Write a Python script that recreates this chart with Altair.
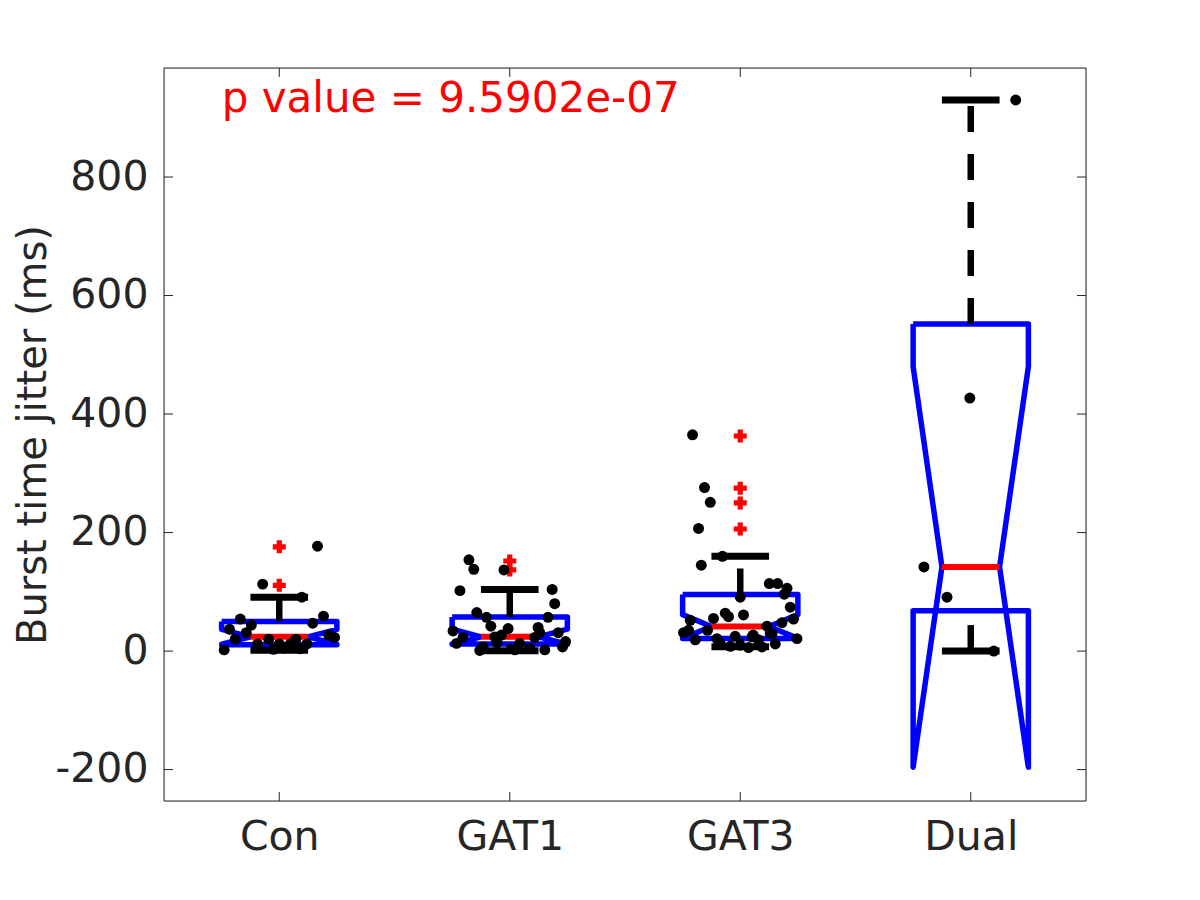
import altair as alt
import pandas as pd

# ---------------- data ----------------
categories = ["Con", "GAT1", "GAT3", "Dual"]
positions = [1, 2, 3, 4]

q1 = [10.5, 11.8, 21.2, 68]
median = [24, 24, 41.5, 142]
q3 = [50, 57.5, 95.5, 552]
notch_lo = [11.5, 11.5, 21.5, -196]
notch_hi = [36.5, 37, 61.5, 480]
whisker_lo = [1.5, 0.5, 7.3, 0]
whisker_hi = [91, 104, 160, 930]

outliers_con = [176, 111]
outliers_gat1 = [152, 137]
outliers_gat3 = [363, 275, 250, 206]
outliers_dual = []

con_offset = [0.166, -0.072, 0.098, -0.169, 0.192, 0.145, -0.216, -0.121, -0.143, -0.191,
              0.214, 0.240, -0.046, 0.072, -0.094, 0.0, 0.048, 0.120, -0.025, -0.239, 0.02, 0.09]
con_values = [177, 113, 91, 54, 59, 47, 37, 44, 31, 20,
              27, 23, 20, 20, 12, 12, 12, 12, 3, 2, 5, 4]

gat1_offset = [-0.177, -0.156, -0.025, -0.216, 0.184, 0.195, 0.166, -0.143, -0.101, -0.082,
               -0.007, 0.123, 0.130, -0.246, 0.210, -0.203, 0.108, -0.065, -0.036, -0.231,
               0.242, 0.229, -0.055, -0.116, -0.130, 0.022, 0.043, 0.087, 0.152]
gat1_values = [154, 138, 137, 102, 104, 80, 57, 65, 57, 42,
               38, 40, 31, 34, 31, 23, 23, 24, 27, 13,
               16, 7, 14, 7, 1, 2, 13, 5, 2]

gat3_offset = [-0.207, -0.155, -0.130, -0.181, -0.077, -0.169, 0.126, 0.162, 0.203, 0.191,
               0.0, 0.217, 0.231, 0.181, -0.065, -0.051, 0.014, -0.116, -0.217, -0.246,
               -0.224, -0.142, 0.116, 0.138, 0.246, -0.195, -0.101, -0.022, 0.051, 0.079,
               -0.087, 0.152, 0.0, 0.036, 0.094, -0.043, 0.130, 0.056]
gat3_values = [365, 276, 251, 207, 160, 145, 114, 114, 106, 96,
               91, 74, 54, 48, 64, 58, 61, 55, 52, 31,
               35, 35, 42, 29, 21, 19, 21, 25, 24, 19,
               13, 12, 10, 6, 7, 8, 30, 27]

dual_offset = [0.195, -0.004, -0.203, -0.103, 0.100]
dual_values = [930, 427, 142, 91, 0]

p_text = "p value = 9.5902e-07"
p_pos = (0.75, 910)

y_ticks = [-200, 0, 200, 400, 600, 800]

# ---------------- build tables ----------------
HALF = 0.25      # half box width
NOTCH = 0.125    # half width at the median / caps

poly_rows = []
for g, p, a, m, b, nl, nh in zip(categories, positions, q1, median, q3, notch_lo, notch_hi):
    verts = [(p - HALF, b), (p - HALF, nh), (p - NOTCH, m), (p - HALF, nl), (p - HALF, a),
             (p + HALF, a), (p + HALF, nl), (p + NOTCH, m), (p + HALF, nh), (p + HALF, b),
             (p - HALF, b)]
    for i, (vx, vy) in enumerate(verts):
        poly_rows.append({"g": g, "x": vx, "y": vy, "o": i})
poly_df = pd.DataFrame(poly_rows)

med_df = pd.DataFrame({"x": [p - NOTCH for p in positions], "x2": [p + NOTCH for p in positions],
                       "y": median})

wh_rows = []
for p, a, b, lo, hi in zip(positions, q1, q3, whisker_lo, whisker_hi):
    wh_rows.append({"x": p, "y": b, "y2": hi})
    wh_rows.append({"x": p, "y": lo, "y2": a})
wh_df = pd.DataFrame(wh_rows)

cap_rows = []
for p, lo, hi in zip(positions, whisker_lo, whisker_hi):
    cap_rows.append({"x": p - NOTCH, "x2": p + NOTCH, "y": hi})
    cap_rows.append({"x": p - NOTCH, "x2": p + NOTCH, "y": lo})
cap_df = pd.DataFrame(cap_rows)

out_rows = []
for p, outs in zip(positions, [outliers_con, outliers_gat1, outliers_gat3, outliers_dual]):
    for v in outs:
        out_rows.append({"x": p, "y": v})
out_df = pd.DataFrame(out_rows)

pt_rows = []
for p, offs, vals in zip(positions, [con_offset, gat1_offset, gat3_offset, dual_offset],
                         [con_values, gat1_values, gat3_values, dual_values]):
    for o, v in zip(offs, vals):
        pt_rows.append({"x": p + o, "y": v})
pt_df = pd.DataFrame(pt_rows)

txt_df = pd.DataFrame({"x": [p_pos[0]], "y": [p_pos[1]], "t": [p_text]})
ytick_df = pd.DataFrame({"y": y_ticks})
xtick_df = pd.DataFrame({"x": positions})
frame_df = pd.DataFrame({"k": [0]})

# ---------------- scales / axes ----------------
W, H = 922, 733
FONT = "DejaVu Sans"
AX = "#262626"
xscale = alt.Scale(domain=[0.5, 4.5], nice=False, zero=False)
yscale = alt.Scale(domain=[-253, 984], nice=False, zero=False)
label_expr = "[" + ",".join("'" + c + "'" for c in categories) + "][datum.value - 1]"
xaxis = alt.Axis(values=positions, labelExpr=label_expr, ticks=False, tickSize=0, domain=False,
                 grid=False, labelFontSize=41, labelColor=AX, labelFont=FONT, labelPadding=16,
                 title=None)
yaxis = alt.Axis(values=y_ticks, labelExpr="'' + datum.value", ticks=False, tickSize=0,
                 domain=False, grid=False,
                 labelFontSize=41, labelColor=AX, labelFont=FONT, labelPadding=16,
                 title="Burst time jitter (ms)", titleFontSize=40, titleFont=FONT,
                 titleColor=AX, titleFontWeight="normal", titleAngle=-90,
                 titleX=-119, titleY=H / 2, titleBaseline="alphabetic", titleAlign="center")


def X(f="x"):
    return alt.X(f, type="quantitative", scale=xscale, axis=xaxis)


def Y(f="y"):
    return alt.Y(f, type="quantitative", scale=yscale, axis=yaxis)


frame = alt.Chart(frame_df).mark_rect(fill=None, fillOpacity=0, stroke=AX, strokeWidth=1).encode(
    x=alt.value(0), x2=alt.value(W), y=alt.value(0), y2=alt.value(H))

boxes = alt.Chart(poly_df).mark_line(color="#0000FF", strokeWidth=5.5, strokeJoin="round").encode(
    x=X(), y=Y(), detail="g:N", order="o:Q")

meds = alt.Chart(med_df).mark_rule(color="#FF0000", strokeWidth=6).encode(
    x=X(), x2="x2", y=Y())

whisk = alt.Chart(wh_df).mark_rule(color="#000000", strokeWidth=6.5, strokeDash=[26, 22],
                                   strokeCap="butt").encode(x=X(), y=Y(), y2="y2")

caps = alt.Chart(cap_df).mark_rule(color="#000000", strokeWidth=7).encode(
    x=X(), x2="x2", y=Y())

outs = alt.Chart(out_df).mark_point(shape="cross", filled=True, color="#FF0000", size=169,
                                    opacity=1).encode(x=X(), y=Y())

pts = alt.Chart(pt_df).mark_circle(color="#000000", size=120, opacity=1).encode(x=X(), y=Y())

ptext = alt.Chart(txt_df).mark_text(color="#FF0000", fontSize=42, font=FONT, align="left",
                                    baseline="alphabetic").encode(x=X(), y=Y(), text="t:N")

ytl = alt.Chart(ytick_df).mark_rule(color=AX, strokeWidth=1).encode(
    y=Y(), x=alt.value(0), x2=alt.value(9))
ytr = alt.Chart(ytick_df).mark_rule(color=AX, strokeWidth=1).encode(
    y=Y(), x=alt.value(W), x2=alt.value(W - 9))
xtb = alt.Chart(xtick_df).mark_rule(color=AX, strokeWidth=1).encode(
    x=X(), y=alt.value(H), y2=alt.value(H - 9))
xtt = alt.Chart(xtick_df).mark_rule(color=AX, strokeWidth=1).encode(
    x=X(), y=alt.value(0), y2=alt.value(9))

chart = alt.layer(ytl, ytr, xtb, xtt, boxes, meds, whisk, caps, outs, pts, ptext, frame).properties(
    width=W, height=H,
    autosize=alt.AutoSizeParams(type="none"),
    padding={"left": 156, "top": 60, "right": 90, "bottom": 80},
    background="white",
).configure_view(stroke=None).configure(font=FONT)

chart.save("out.html", embed_options={"renderer": "svg", "actions": False})
